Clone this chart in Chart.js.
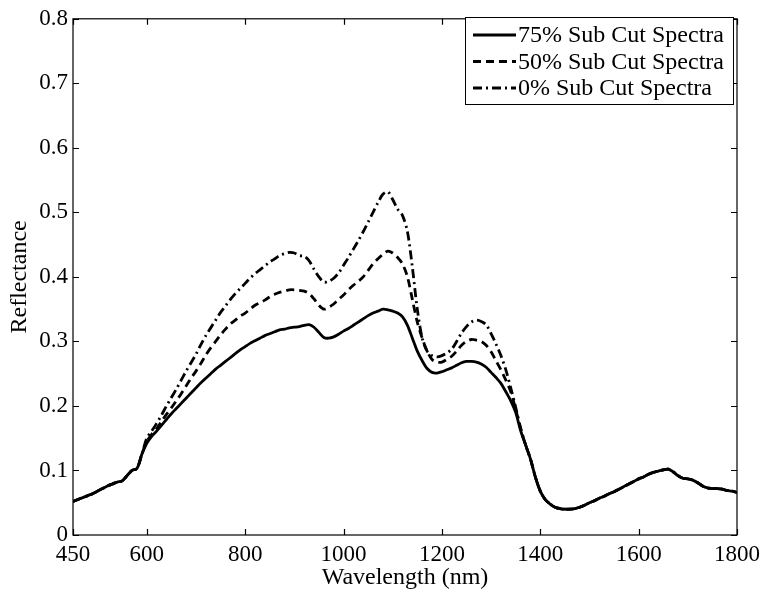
<!DOCTYPE html>
<html>
<head>
<meta charset="utf-8">
<script src="https://cdn.jsdelivr.net/npm/chart.js@4"></script>
<style>
  html, body { margin: 0; padding: 0; background: #fff; }
  #wrap { width: 766px; height: 592px; }
</style>
</head>
<body>
<div id="wrap"><canvas id="spectraChart" width="766" height="592"></canvas></div>
<script>
// Wavelength grid (nm), 10 nm steps
const wavelengths = [];
for (let w = 450; w <= 1800; w += 10) wavelengths.push(w);

// Reflectance, 75% sub cut
const sub75 = [
  0.052, 0.055, 0.058, 0.061, 0.064, 0.068, 0.072, 0.076, 0.079, 0.082,
  0.084, 0.092, 0.100, 0.103, 0.125, 0.142, 0.153, 0.161, 0.170, 0.179,
  0.188, 0.196, 0.204, 0.212, 0.220, 0.228, 0.236, 0.243, 0.250, 0.257,
  0.263, 0.269, 0.275, 0.281, 0.287, 0.292, 0.297, 0.301, 0.305, 0.309,
  0.312, 0.315, 0.318, 0.319, 0.321, 0.322, 0.323, 0.325, 0.326, 0.322,
  0.314, 0.306, 0.305, 0.307, 0.311, 0.316, 0.320, 0.325, 0.330, 0.335,
  0.340, 0.344, 0.347, 0.350, 0.349, 0.347, 0.344, 0.338, 0.325, 0.305,
  0.285, 0.270, 0.258, 0.252, 0.251, 0.253, 0.256, 0.259, 0.263, 0.267,
  0.269, 0.269, 0.268, 0.265, 0.260, 0.252, 0.244, 0.235, 0.222, 0.208,
  0.190, 0.162, 0.140, 0.118, 0.090, 0.068, 0.055, 0.048, 0.043, 0.041,
  0.040, 0.040, 0.041, 0.043, 0.046, 0.050, 0.053, 0.057, 0.060, 0.064,
  0.067, 0.071, 0.075, 0.079, 0.083, 0.087, 0.090, 0.094, 0.097, 0.099,
  0.101, 0.102, 0.098, 0.092, 0.088, 0.087, 0.085, 0.081, 0.076, 0.073,
  0.072, 0.072, 0.071, 0.069, 0.068, 0.066
];

// Reflectance, 50% sub cut
const sub50 = [
  0.052, 0.055, 0.058, 0.061, 0.064, 0.068, 0.072, 0.076, 0.079, 0.082,
  0.084, 0.092, 0.100, 0.103, 0.125, 0.145, 0.156, 0.165, 0.176, 0.187,
  0.197, 0.208, 0.219, 0.231, 0.243, 0.254, 0.266, 0.279, 0.290, 0.300,
  0.310, 0.319, 0.327, 0.333, 0.339, 0.344, 0.350, 0.356, 0.360, 0.364,
  0.369, 0.373, 0.376, 0.378, 0.380, 0.380, 0.379, 0.378, 0.374, 0.366,
  0.356, 0.350, 0.353, 0.358, 0.365, 0.372, 0.380, 0.387, 0.393, 0.400,
  0.410, 0.420, 0.428, 0.435, 0.440, 0.437, 0.430, 0.420, 0.400, 0.365,
  0.330, 0.305, 0.285, 0.272, 0.268, 0.268, 0.272, 0.277, 0.285, 0.294,
  0.300, 0.303, 0.302, 0.300, 0.294, 0.284, 0.270, 0.256, 0.240, 0.222,
  0.195, 0.165, 0.140, 0.118, 0.090, 0.068, 0.055, 0.048, 0.043, 0.041,
  0.040, 0.040, 0.041, 0.043, 0.046, 0.050, 0.053, 0.057, 0.060, 0.064,
  0.067, 0.071, 0.075, 0.079, 0.083, 0.087, 0.090, 0.094, 0.097, 0.099,
  0.101, 0.102, 0.098, 0.092, 0.088, 0.087, 0.085, 0.081, 0.076, 0.073,
  0.072, 0.072, 0.071, 0.069, 0.068, 0.066
];

// Reflectance, 0% sub cut
const sub0 = [
  0.052, 0.055, 0.058, 0.061, 0.064, 0.068, 0.072, 0.076, 0.079, 0.082,
  0.084, 0.092, 0.100, 0.103, 0.125, 0.150, 0.161, 0.173, 0.186, 0.200,
  0.213, 0.226, 0.240, 0.254, 0.267, 0.280, 0.295, 0.309, 0.321, 0.333,
  0.345, 0.355, 0.365, 0.374, 0.382, 0.390, 0.398, 0.405, 0.411, 0.417,
  0.423, 0.428, 0.433, 0.436, 0.438, 0.437, 0.433, 0.432, 0.425, 0.412,
  0.400, 0.392, 0.393, 0.398, 0.406, 0.418, 0.430, 0.443, 0.456, 0.470,
  0.485, 0.500, 0.515, 0.528, 0.532, 0.520, 0.505, 0.495, 0.470, 0.415,
  0.350, 0.305, 0.285, 0.278, 0.276, 0.278, 0.282, 0.288, 0.300, 0.313,
  0.323, 0.330, 0.333, 0.331, 0.326, 0.312, 0.296, 0.278, 0.256, 0.228,
  0.198, 0.166, 0.140, 0.118, 0.090, 0.068, 0.055, 0.048, 0.043, 0.041,
  0.040, 0.040, 0.041, 0.043, 0.046, 0.050, 0.053, 0.057, 0.060, 0.064,
  0.067, 0.071, 0.075, 0.079, 0.083, 0.087, 0.090, 0.094, 0.097, 0.099,
  0.101, 0.102, 0.098, 0.092, 0.088, 0.087, 0.085, 0.081, 0.076, 0.073,
  0.072, 0.072, 0.071, 0.069, 0.068, 0.066
];

const seriesLabels = ['75% Sub Cut Spectra', '50% Sub Cut Spectra', '0% Sub Cut Spectra'];
const xTicks = [450, 600, 800, 1000, 1200, 1400, 1600, 1800];
const yTicks = [0, 0.1, 0.2, 0.3, 0.4, 0.5, 0.6, 0.7, 0.8];

const FONT = 'Liberation Serif';

function toPoints(values) {
  return values.map((v, i) => ({ x: wavelengths[i], y: v }));
}

// Axes frame with inward tick marks on all four sides
const framePlugin = {
  id: 'frame',
  afterDraw(chart) {
    const { ctx, chartArea: a, scales } = chart;
    const len = 6;
    ctx.save();
    ctx.strokeStyle = '#000';
    ctx.lineWidth = 1.2;
    ctx.strokeRect(a.left, a.top, a.right - a.left, a.bottom - a.top);
    ctx.beginPath();
    xTicks.forEach(t => {
      const px = Math.round(scales.x.getPixelForValue(t)) + 0.5;
      ctx.moveTo(px, a.bottom); ctx.lineTo(px, a.bottom - len);
      ctx.moveTo(px, a.top); ctx.lineTo(px, a.top + len);
    });
    yTicks.forEach(t => {
      const py = Math.round(scales.y.getPixelForValue(t)) + 0.5;
      ctx.moveTo(a.left, py); ctx.lineTo(a.left + len, py);
      ctx.moveTo(a.right, py); ctx.lineTo(a.right - len, py);
    });
    ctx.stroke();
    ctx.restore();
  }
};

// Boxed legend in the upper right corner of the plot
const legendBoxPlugin = {
  id: 'legendBox',
  afterDraw(chart) {
    const { ctx } = chart;
    const box = { left: 465, top: 17, width: 268, height: 87 };
    const rowH = 26.5;
    ctx.save();
    ctx.fillStyle = '#fff';
    ctx.fillRect(box.left, box.top, box.width, box.height);
    ctx.strokeStyle = '#000';
    ctx.lineWidth = 1;
    ctx.strokeRect(box.left + 0.5, box.top + 0.5, box.width, box.height);
    ctx.font = `24px "${FONT}"`;
    ctx.textBaseline = 'middle';
    chart.data.datasets.forEach((ds, i) => {
      const y = box.top + 18 + i * rowH;
      ctx.beginPath();
      ctx.setLineDash(ds.borderDash || []);
      ctx.lineWidth = ds.borderWidth;
      ctx.moveTo(box.left + 8, y);
      ctx.lineTo(box.left + 51, y);
      ctx.stroke();
      ctx.setLineDash([]);
      ctx.fillStyle = '#000';
      ctx.fillText(ds.label, box.left + 53, y + 1);
    });
    ctx.restore();
  }
};

function buildChart() {
  const ctx = document.getElementById('spectraChart').getContext('2d');
  new Chart(ctx, {
    type: 'line',
    data: {
      datasets: [
        {
          label: seriesLabels[0],
          data: toPoints(sub75),
          borderColor: '#000',
          borderWidth: 2.8,
          pointRadius: 0,
          tension: 0.3
        },
        {
          label: seriesLabels[1],
          data: toPoints(sub50),
          borderColor: '#000',
          borderWidth: 2.8,
          borderDash: [8, 5],
          pointRadius: 0,
          tension: 0.3
        },
        {
          label: seriesLabels[2],
          data: toPoints(sub0),
          borderColor: '#000',
          borderWidth: 2.8,
          borderDash: [9, 4, 2, 4],
          pointRadius: 0,
          tension: 0.3
        }
      ]
    },
    options: {
      responsive: false,
      animation: false,
      layout: { padding: { top: 10, right: 27, left: 0, bottom: 0 } },
      plugins: {
        legend: { display: false },
        tooltip: { enabled: false }
      },
      scales: {
        x: {
          type: 'linear',
          min: 450,
          max: 1800,
          afterBuildTicks(scale) { scale.ticks = xTicks.map(v => ({ value: v })); },
          afterFit(scale) { scale.height = 57; },
          grid: { display: false, drawTicks: false },
          border: { display: false },
          ticks: {
            color: '#000',
            font: { family: FONT, size: 23 },
            padding: 6,
            maxRotation: 0,
            autoSkip: false,
            callback: v => String(v)
          },
          title: {
            display: true,
            text: 'Wavelength (nm)',
            color: '#000',
            font: { family: FONT, size: 24 },
            padding: { top: 0, bottom: 0 }
          }
        },
        y: {
          min: 0,
          max: 0.8,
          afterBuildTicks(scale) { scale.ticks = yTicks.map(v => ({ value: v })); },
          afterFit(scale) { scale.width = 73; },
          grid: { display: false, drawTicks: false },
          border: { display: false },
          ticks: {
            color: '#000',
            font: { family: FONT, size: 23 },
            padding: 5,
            callback: v => String(Math.round(v * 10) / 10)
          },
          title: {
            display: true,
            text: 'Reflectance',
            color: '#000',
            font: { family: FONT, size: 24 },
            padding: { top: 5, bottom: 0 }
          }
        }
      }
    },
    plugins: [framePlugin, legendBoxPlugin]
  });
}

document.addEventListener('DOMContentLoaded', buildChart);
</script>
</body>
</html>
